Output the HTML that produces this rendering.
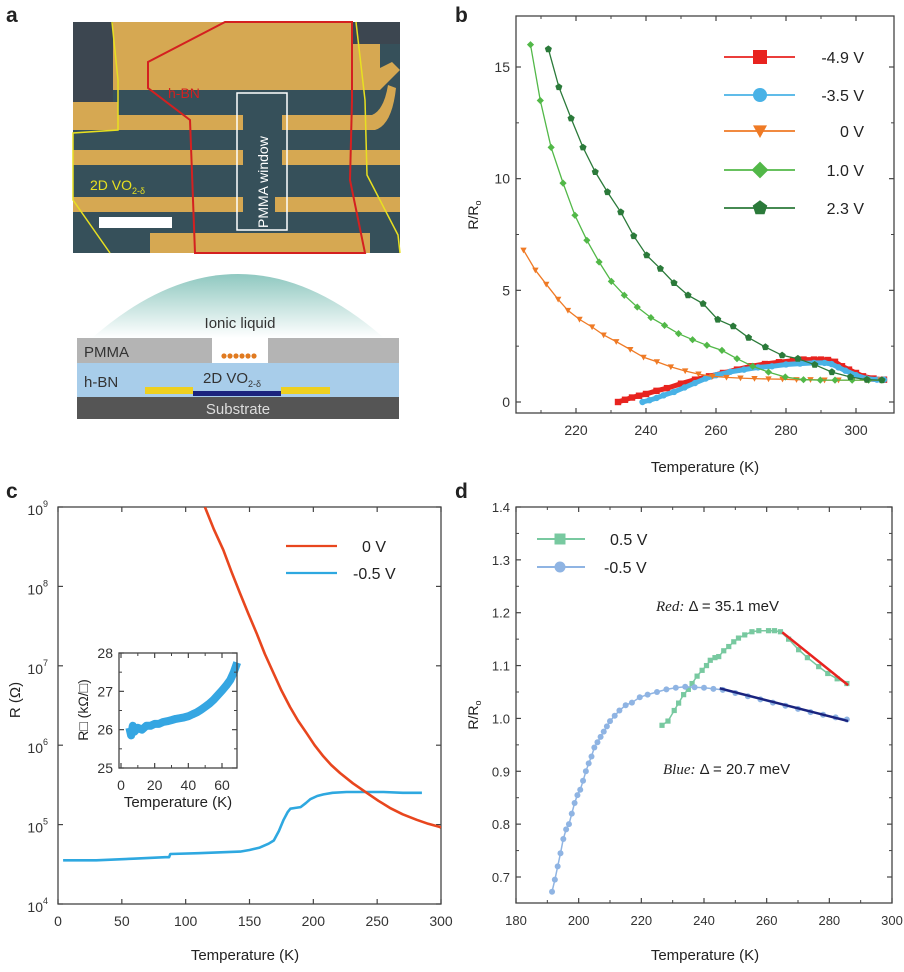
<!DOCTYPE html>
<html><head><meta charset="utf-8"><style>
html,body{margin:0;padding:0;background:#fff;}
svg{display:block;font-family:"Liberation Sans",sans-serif;}
</style></head><body>
<svg id="fig" width="904" height="972" viewBox="0 0 904 972" xmlns="http://www.w3.org/2000/svg">
<text x="6" y="22" font-size="21" font-weight="bold" fill="#222">a</text>
<text x="455" y="22" font-size="21" font-weight="bold" fill="#222">b</text>
<text x="6" y="498" font-size="21" font-weight="bold" fill="#222">c</text>
<text x="455" y="498" font-size="21" font-weight="bold" fill="#222">d</text>

<g>
  <rect x="73" y="22" width="327" height="231" fill="#36505a"/>
  <rect x="73" y="22" width="40" height="80" fill="#3c4650"/>
  <rect x="113" y="22" width="267" height="68" fill="#d6a852"/>
  <rect x="353" y="22" width="47" height="22" fill="#3c4650"/>
  <polygon points="380,68 392,62 400,70 390,80 380,90" fill="#d6a852"/>
  <rect x="73" y="102" width="45" height="28" fill="#d6a852"/>
  <rect x="73" y="115" width="170" height="15" fill="#d6a852"/>
  <path d="M282,115 L372,115 Q384,110 388,85 L396,88 Q392,125 375,130 L282,130 Z" fill="#d6a852"/>
  <rect x="73" y="150" width="170" height="15" fill="#d6a852"/>
  <rect x="282" y="150" width="118" height="15" fill="#d6a852"/>
  <rect x="73" y="197" width="170" height="15" fill="#d6a852"/>
  <rect x="275" y="197" width="125" height="15" fill="#d6a852"/>
  <rect x="150" y="233" width="220" height="20" fill="#d6a852"/>
  <polyline points="112,22 118,80 118,130 73,133 73,200 110,253" fill="none" stroke="#e8e020" stroke-width="1.5"/>
  <polyline points="356,22 365,100 367,175 398,235 400,253" fill="none" stroke="#e8e020" stroke-width="1.5"/>
  <polygon points="225,22 352,22 352,100 350,180 365,253 195,253 190,120 148,88 148,62" fill="none" stroke="#d42020" stroke-width="2"/>
  <rect x="237" y="93" width="50" height="137" fill="none" stroke="#fff" stroke-width="1.5"/>
  <text transform="translate(268,228) rotate(-90)" font-size="14" fill="#fff">PMMA window</text>
  <rect x="99" y="217" width="73" height="11" fill="#fff"/>
  <text x="168" y="98" font-size="14" fill="#d42020">h-BN</text>
  <text x="90" y="190" font-size="14" fill="#e8e020">2D VO<tspan font-size="9" dy="4">2-δ</tspan></text>
</g>

<defs>
  <linearGradient id="dome" x1="0" y1="0" x2="0" y2="1">
    <stop offset="0" stop-color="#8fc8c0"/><stop offset="1" stop-color="#ffffff"/>
  </linearGradient>
</defs>
<g>
  <path d="M92,338 Q238,210 384,338 Z" fill="url(#dome)"/>
  <text x="240" y="328" font-size="15" fill="#333" text-anchor="middle">Ionic liquid</text>
  <rect x="77" y="338" width="135" height="25" fill="#b4b4b4"/>
  <rect x="268" y="338" width="131" height="25" fill="#b4b4b4"/>
  <text x="84" y="357" font-size="15" fill="#333">PMMA</text>
  <g fill="#e07a20">
    <circle cx="224" cy="356" r="2.6"/><circle cx="230" cy="356" r="2.6"/><circle cx="236" cy="356" r="2.6"/><circle cx="242" cy="356" r="2.6"/><circle cx="248" cy="356" r="2.6"/><circle cx="254" cy="356" r="2.6"/>
  </g>
  <rect x="77" y="363" width="322" height="34" fill="#a8cdea"/>
  <text x="84" y="387" font-size="15" fill="#333">h-BN</text>
  <text x="203" y="383" font-size="15" fill="#333">2D VO<tspan font-size="9" dy="4">2-δ</tspan></text>
  <rect x="145" y="387" width="48" height="7" fill="#eed020"/>
  <rect x="281" y="387" width="49" height="7" fill="#eed020"/>
  <rect x="193" y="391" width="88" height="5" fill="#1a237e"/>
  <rect x="77" y="397" width="322" height="22" fill="#555"/>
  <text x="238" y="414" font-size="15" fill="#ddd" text-anchor="middle">Substrate</text>
</g>

<g id="pb"></g>
<g id="pc"></g>
<g id="pd"></g>
</svg>

<script>
// ---------- Panel b data ----------
const bT_m49 = [232,234,236,238,240,243,246,250,254,258,262,266,270,274,278,282,285,288,290,292,294,296,298,300,302,305,308];
const bV_m49 = [0,0.1,0.2,0.28,0.36,0.5,0.62,0.82,1.0,1.15,1.3,1.45,1.6,1.7,1.78,1.85,1.9,1.9,1.9,1.88,1.8,1.6,1.45,1.3,1.15,1.05,1.0];
const bT_m35 = [239,241,243,245,248,251,254,257,260,264,268,272,276,280,284,288,291,293,295,297,300,303,306,308];
const bV_m35 = [0,0.08,0.18,0.3,0.45,0.65,0.85,1.05,1.2,1.35,1.45,1.55,1.6,1.68,1.72,1.75,1.75,1.7,1.55,1.4,1.2,1.05,1.0,1.0];
const bT_0 = [205,208.4,211.5,214.9,217.7,221,224.6,227.9,231.5,235.5,239.3,243.1,247.1,251.2,255,259,263,267,271,275,279,283,287,291,295,299,303,307];
const bV_0 = [6.8,5.9,5.27,4.6,4.1,3.7,3.36,3.0,2.7,2.35,2.0,1.8,1.57,1.39,1.25,1.15,1.1,1.07,1.05,1.03,1.02,1.0,1.0,0.98,0.98,0.98,0.98,0.98];
const bT_10 = [207,209.8,212.9,216.3,219.7,223.1,226.6,230.1,233.8,237.5,241.4,245.3,249.3,253.3,257.4,261.7,266,270.5,275,279.8,285,289.8,294,298.9,303.6,307.4];
const bV_10 = [16.0,13.5,11.4,9.8,8.36,7.24,6.27,5.4,4.78,4.25,3.78,3.43,3.06,2.79,2.54,2.31,1.94,1.6,1.34,1.12,1.0,0.98,0.98,0.98,0.98,0.98];
const bT_23 = [212.1,215.1,218.6,222,225.5,229,232.8,236.5,240.2,244.1,248,252,256.3,260.5,264.9,269.3,274.1,278.9,283.4,288.2,293.1,298.4,303.1,307.4];
const bV_23 = [15.8,14.1,12.7,11.4,10.3,9.4,8.5,7.43,6.57,5.97,5.33,4.78,4.4,3.69,3.39,2.88,2.46,2.09,1.94,1.67,1.34,1.12,1.0,0.98];
const bXTicks = [220,240,260,280,300];
const bYTicks = [0,5,10,15];
const bLegend = ['-4.9 V','-3.5 V','0 V','1.0 V','2.3 V'];

// ---------- Panel c data ----------
const cT_0V = [115.1,122,129.5,136,142.6,149,155.6,162,168.7,175,181.8,188,194.8,201,207.8,214,220.9,231,241.8,251,260,270,281,290,299.2,300];
const cLog_0V = [9.0,8.72,8.46,8.18,7.91,7.66,7.41,7.15,6.91,6.69,6.48,6.31,6.15,6.0,5.86,5.75,5.65,5.52,5.40,5.3,5.21,5.13,5.06,5.01,4.97,4.96];
const cT_m05 = [4,30,59,84,87,88,110,142.7,150,158,165,169,173,176.7,180,182,186,190,194,197.6,203,208,215,226,240,255,270,285];
const cLog_m05 = [4.55,4.55,4.57,4.59,4.59,4.63,4.64,4.66,4.68,4.71,4.76,4.8,4.92,5.06,5.16,5.2,5.21,5.22,5.27,5.32,5.36,5.38,5.40,5.41,5.41,5.41,5.40,5.40];
const cXTicks = [0,50,100,150,200,250,300];
const cYExp = [4,5,6,7,8,9];
const cLegend = ['0 V','-0.5 V'];
const iT = [5,6,7,8,10,12.5,15,17.5,20,22.5,25,27.5,30,32.5,35,37.5,40,42.5,45,47.5,50,52.5,55,57.5,60,62.5,65,67,69];
const iR = [26.05,25.85,26.1,25.95,26.05,26.0,26.1,26.1,26.15,26.15,26.2,26.22,26.25,26.28,26.3,26.32,26.35,26.4,26.45,26.52,26.6,26.68,26.78,26.9,27.02,27.15,27.3,27.5,27.75];
const iXTicks = [0,20,40,60];
const iYTicks = [25,26,27,28];

// ---------- Panel d data ----------
const dT_p05 = [226.6,228.5,230.5,231.9,233.5,235,236.2,237.8,239.4,240.8,242,243.5,244.7,246.3,247.9,249.5,251,253,255.3,257.5,260.6,262.5,264.4,267,270.2,273,276.6,279.5,282.5,285.6];
const dV_p05 = [0.987,0.995,1.015,1.029,1.045,1.055,1.066,1.08,1.091,1.1,1.11,1.115,1.117,1.128,1.136,1.145,1.152,1.158,1.164,1.166,1.166,1.166,1.164,1.15,1.13,1.115,1.098,1.085,1.075,1.066];
const dT_m05 = [191.5,192.4,193.3,194.2,195.1,196,196.9,197.8,198.7,199.6,200.5,201.4,202.3,203.2,204.1,205,206,207,208,209,210,211.5,213,215,217,219.5,222,225,228,231,234,237,240,243,246,250,254,258,262,266,270,274,278,282,285.6];
const dV_m05 = [0.672,0.695,0.72,0.745,0.772,0.79,0.8,0.82,0.84,0.855,0.865,0.882,0.9,0.915,0.928,0.945,0.955,0.965,0.975,0.985,0.995,1.005,1.015,1.025,1.03,1.04,1.045,1.05,1.055,1.058,1.06,1.059,1.058,1.056,1.054,1.048,1.042,1.036,1.03,1.024,1.018,1.012,1.007,1.002,0.998];
const dFitRedT = [265,286];
const dFitRedV = [1.163,1.063];
const dFitBlueT = [245,286];
const dFitBlueV = [1.057,0.995];
const dXTicks = [180,200,220,240,260,280,300];
const dYTicks = [0.7,0.8,0.9,1.0,1.1,1.2,1.3,1.4];
const dLegend = ['0.5 V','-0.5 V'];

const NS = 'http://www.w3.org/2000/svg';
function mk(tag, attrs, parent){
  const e = document.createElementNS(NS, tag);
  for (const k in attrs) e.setAttribute(k, attrs[k]);
  parent.appendChild(e);
  return e;
}
function linScale(d0,d1,r0,r1){ return v => r0 + (v-d0)*(r1-r0)/(d1-d0); }
function pathFrom(xs, ys, sx, sy){ return xs.map((x,i)=>(i?'L':'M')+sx(x).toFixed(1)+','+sy(ys[i]).toFixed(1)).join(''); }

function marker(g, shape, x, y, r, fill){
  let e;
  if (shape==='square') e = mk('rect',{x:x-r,y:y-r,width:2*r,height:2*r,fill:fill},g);
  else if (shape==='circle') e = mk('circle',{cx:x,cy:y,r:r,fill:fill},g);
  else if (shape==='tri') e = mk('polygon',{points:`${x-r},${y-r*0.8} ${x+r},${y-r*0.8} ${x},${y+r}`,fill:fill},g);
  else if (shape==='diamond') e = mk('polygon',{points:`${x},${y-r*1.2} ${x+r*1.2},${y} ${x},${y+r*1.2} ${x-r*1.2},${y}`,fill:fill},g);
  else { let p=[]; for(let k=0;k<5;k++){const a=-Math.PI/2+k*2*Math.PI/5; p.push((x+r*1.1*Math.cos(a)).toFixed(1)+','+(y+r*1.1*Math.sin(a)).toFixed(1));} e = mk('polygon',{points:p.join(' '),fill:fill},g); }
  return e;
}

function frame(g, x0,y0,x1,y1){
  const r = mk('rect',{x:x0,y:y0,width:x1-x0,height:y1-y0,fill:'none',stroke:'#444','stroke-width':1.3},g);
  
  
}
function xticks(g, ticks, sx, y0, y1, fmt, fs, minor){
  ticks.forEach(t=>{
    const x = sx(t);
    mk('line',{x1:x,y1:y1,x2:x,y2:y1-5,stroke:'#444','stroke-width':1.2},g);
    mk('line',{x1:x,y1:y0,x2:x,y2:y0+5,stroke:'#444','stroke-width':1.2},g);
    const tx = mk('text',{x:x,y:y1+22,'font-size':fs,'text-anchor':'middle',fill:'#333'},g);
    tx.textContent = fmt(t);
    
    
  });
  (minor||[]).forEach(t=>{
    const x = sx(t);
    mk('line',{x1:x,y1:y1,x2:x,y2:y1-3,stroke:'#444','stroke-width':1},g);
    mk('line',{x1:x,y1:y0,x2:x,y2:y0+3,stroke:'#444','stroke-width':1},g);
  });
}
function yticks(g, ticks, sy, x0, x1, fmt, fs, minor){
  ticks.forEach(t=>{
    const y = sy(t);
    mk('line',{x1:x0,y1:y,x2:x0+5,y2:y,stroke:'#444','stroke-width':1.2},g);
    mk('line',{x1:x1,y1:y,x2:x1-5,y2:y,stroke:'#444','stroke-width':1.2},g);
    if (fmt){
      const tx = mk('text',{x:x0-6,y:y+5,'font-size':fs,'text-anchor':'end',fill:'#333'},g);
      tx.textContent = fmt(t);
      
      
    }
  });
  (minor||[]).forEach(t=>{
    const y = sy(t);
    mk('line',{x1:x0,y1:y,x2:x0+3,y2:y,stroke:'#444','stroke-width':1},g);
    mk('line',{x1:x1,y1:y,x2:x1-3,y2:y,stroke:'#444','stroke-width':1},g);
  });
}
function label(g, txt, x, y, fs, rot, name){
  const t = mk('text',{x:x,y:y,'font-size':fs,'text-anchor':'middle',fill:'#222'},g);
  if (rot) t.setAttribute('transform',`rotate(-90 ${x} ${y})`);
  t.textContent = txt;
  
  
  return t;
}

// ================= Panel b =================
(function(){
  const g = document.getElementById('pb');
  const X0=516,X1=894,Y0=16,Y1=413;
  const sx = linScale(220,300,576,856), sy = linScale(0,15,402,67);
  frame(g,X0,Y0,X1,Y1);
  xticks(g,bXTicks,sx,Y0,Y1,t=>t,14,[210,230,250,270,290]);
  yticks(g,bYTicks,sy,X0,X1,t=>t,14,[2.5,7.5,12.5]);
  label(g,'Temperature (K)',705,472,15,false,'x-axis-title');
  const yl = label(g,'R/R',478,215,14,true,'y-axis-title');
  const sub = mk('tspan',{'font-size':9,dy:3},yl); sub.textContent='o';
  const series = [
    [bT_m49,bV_m49,'#e8231f','square',3.2,'series-minus-4.9V',true],
    [bT_m35,bV_m35,'#49b2e6','circle',3.2,'series-minus-3.5V',true],
    [bT_0,bV_0,'#ef7a25','tri',3.2,'series-0V',false],
    [bT_10,bV_10,'#52b848','diamond',3,'series-1.0V',false],
    [bT_23,bV_23,'#2b7a3a','pent',3.4,'series-2.3V',false]
  ];
  series.forEach(s=>{
    const sg = mk('g',{},g);
    
    
    mk('path',{d:pathFrom(s[0],s[1],sx,sy),fill:'none',stroke:s[2],'stroke-width':s[6]?5:1.3},sg);
    s[0].forEach((t,i)=>marker(sg,s[3],sx(t),sy(s[1][i]),s[4],s[2]));
  });
  const ly = [57,95,131,170,208];
  series.forEach((s,i)=>{
    const lg = mk('g',{},g);
    
    
    mk('line',{x1:724,y1:ly[i],x2:795,y2:ly[i],stroke:s[2],'stroke-width':1.8},lg);
    marker(lg,s[3],760,ly[i],7,s[2]);
    const t = mk('text',{x:864,y:ly[i]+6,'font-size':16,'text-anchor':'end',fill:'#222'},lg);
    t.textContent = bLegend[i];
  });
})();

// ================= Panel c =================
(function(){
  const g = document.getElementById('pc');
  const X0=58,X1=441,Y0=507,Y1=904;
  const sx = linScale(0,300,58,441), sy = linScale(4,9,904,507);
  frame(g,X0,Y0,X1,Y1);
  xticks(g,cXTicks,sx,Y0,Y1,t=>t,14,[]);
  yticks(g,cYExp,sy,X0,X1,null,14,[]);
  cYExp.forEach(e=>{
    const t = mk('text',{x:X0-10,y:sy(e)+8,'font-size':14,'text-anchor':'end',fill:'#333'},g);
    
    
    t.textContent='10';
    const s = mk('tspan',{'font-size':9,dy:-8},t); s.textContent=e;
  });
  label(g,'Temperature (K)',245,960,15,false,'x-axis-title');
  label(g,'R (Ω)',20,700,15,true,'y-axis-title');
  const clip = mk('clipPath',{id:'clipc'},g);
  mk('rect',{x:X0,y:Y0,width:X1-X0,height:Y1-Y0},clip);
  const b = mk('path',{d:pathFrom(cT_m05,cLog_m05,sx,sy),fill:'none',stroke:'#2ea8e0','stroke-width':2.6,'stroke-linejoin':'round'},g);
  
  
  const r = mk('path',{d:pathFrom(cT_0V,cLog_0V,sx,sy),fill:'none',stroke:'#e8461e','stroke-width':2.6,'stroke-linejoin':'round','clip-path':'url(#clipc)'},g);
  
  
  const cols = ['#e8461e','#2ea8e0'], ly=[546,573];
  cols.forEach((c,i)=>{
    const lg = mk('g',{},g);
    
    
    mk('line',{x1:286,y1:ly[i],x2:337,y2:ly[i],stroke:c,'stroke-width':2.2},lg);
    const t = mk('text',{x:i?353:362,y:ly[i]+6,'font-size':16,fill:'#222'},lg);
    t.textContent = cLegend[i];
  });
  const ig = mk('g',{},g);
  
  
  mk('rect',{x:119,y:653,width:118,height:115,fill:'#fff'},ig);
  const ix = linScale(0,60,121,222), iy = linScale(25,28,768,653);
  const ip = mk('path',{d:pathFrom(iT,iR,ix,iy),fill:'none',stroke:'#35a6e2','stroke-width':8,'stroke-linejoin':'round'},ig);
  
  
  frame(ig,119,653,237,768);
  xticks(ig,iXTicks,ix,653,768,t=>t,14,[10,30,50]);
  yticks(ig,iYTicks,iy,119,237,t=>t,14,[25.5,26.5,27.5]);
  label(ig,'Temperature (K)',178,807,15,false,'inset-x-axis-title');
  label(ig,'R□ (kΩ/□)',88,710,14,true,'inset-y-axis-title');
})();

// ================= Panel d =================
(function(){
  const g = document.getElementById('pd');
  const X0=516,X1=892,Y0=507,Y1=903;
  const sx = linScale(180,300,516,892), sy = linScale(0.7,1.4,877,507);
  frame(g,X0,Y0,X1,Y1);
  xticks(g,dXTicks,sx,Y0,Y1,t=>t,13,[190,210,230,250,270,290]);
  yticks(g,dYTicks,sy,X0,X1,t=>t.toFixed(1),13,[0.75,0.85,0.95,1.05,1.15,1.25,1.35]);
  label(g,'Temperature (K)',705,960,15,false,'x-axis-title');
  const yl = label(g,'R/R',478,715,14,true,'y-axis-title');
  const sub = mk('tspan',{'font-size':9,dy:3},yl); sub.textContent='o';
  const sg = mk('g',{},g);
  
  
  mk('path',{d:pathFrom(dT_p05,dV_p05,sx,sy),fill:'none',stroke:'#78c9a0','stroke-width':1.5},sg);
  dT_p05.forEach((t,i)=>marker(sg,'square',sx(t),sy(dV_p05[i]),2.6,'#78c9a0'));
  const bg = mk('g',{},g);
  
  
  mk('path',{d:pathFrom(dT_m05,dV_m05,sx,sy),fill:'none',stroke:'#8fb4e3','stroke-width':1.5},bg);
  dT_m05.forEach((t,i)=>marker(bg,'circle',sx(t),sy(dV_m05[i]),3,'#8fb4e3'));
  const fr = mk('path',{d:pathFrom(dFitRedT,dFitRedV,sx,sy),stroke:'#e8231f','stroke-width':2.5,fill:'none'},g);
  
  
  const fb = mk('path',{d:pathFrom(dFitBlueT,dFitBlueV,sx,sy),stroke:'#1a237e','stroke-width':2.5,fill:'none'},g);
  
  
  const a1 = mk('text',{x:656,y:611,'font-size':15,fill:'#222'},g);
  
  
  const i1 = mk('tspan',{'font-family':'Liberation Serif, serif','font-style':'italic'},a1); i1.textContent='Red:';
  const r1 = mk('tspan',{},a1); r1.textContent=' Δ = 35.1 meV';
  const a2 = mk('text',{x:663,y:774,'font-size':15,fill:'#222'},g);
  
  
  const i2 = mk('tspan',{'font-family':'Liberation Serif, serif','font-style':'italic'},a2); i2.textContent='Blue:';
  const r2 = mk('tspan',{},a2); r2.textContent=' Δ = 20.7 meV';
  const ly=[539,567], cols=['#78c9a0','#8fb4e3'], sh=['square','circle'];
  cols.forEach((c,i)=>{
    const lg = mk('g',{},g);
    
    
    mk('line',{x1:537,y1:ly[i],x2:585,y2:ly[i],stroke:c,'stroke-width':2},lg);
    marker(lg,sh[i],560,ly[i],5.5,c);
    const t = mk('text',{x:i?604:610,y:ly[i]+6,'font-size':16,fill:'#222'},lg);
    t.textContent = dLegend[i];
  });
})();
</script>
</body></html>
